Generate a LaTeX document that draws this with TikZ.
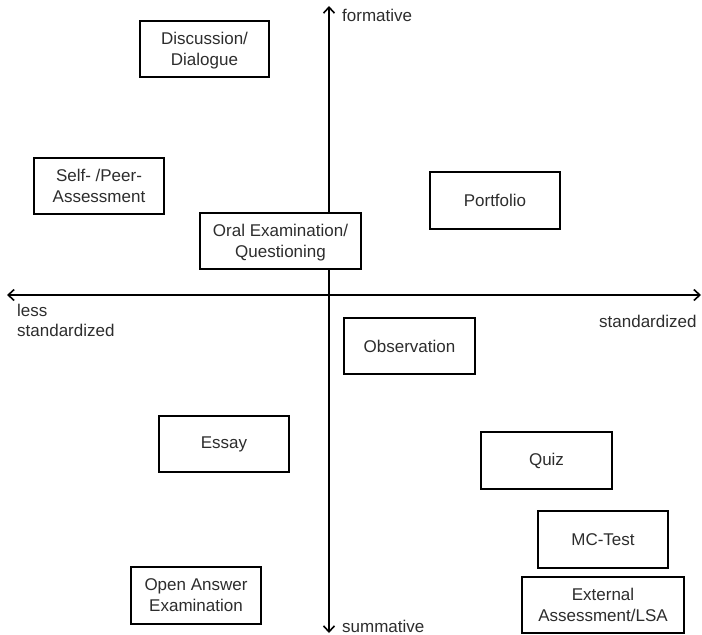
\documentclass[tikz,border=0pt]{standalone}
\usepackage{fontspec}
\setmainfont{Liberation Sans}
\usetikzlibrary{arrows.meta}
\definecolor{txt}{RGB}{45,45,45}
\newcommand\lnst{\rule[-5pt]{0pt}{21pt}}
\tikzset{
  item/.style={draw=black, line width=1.6pt, fill=white, inner sep=0pt, align=center,
    text=txt, font=\fontsize{17}{21}\selectfont},
  axis/.style={line width=1.6pt, draw=black, {Straight Barb[length=6pt,width=11pt,line width=1.6pt]}-{Straight Barb[length=6pt,width=11pt,line width=1.6pt]}},
  lbl/.style={text=txt, inner sep=0pt, font=\fontsize{17}{20}\selectfont}
}
\begin{document}
\begin{tikzpicture}[x=1pt,y=-1pt]
\useasboundingbox (0,0) rectangle (702,635);
\coordinate (top) at (329,6);
\coordinate (bot) at (329,633);
\coordinate (lft) at (7,295);
\coordinate (rgt) at (701,295);
\draw[axis] (top) -- (bot);
\draw[axis] (lft) -- (rgt);

\node[item, minimum width=129pt, minimum height=56pt] (disc) at (204.5,49) {\lnst Discussion/\\\lnst Dialogue};
\node[item, minimum width=130pt, minimum height=56pt] (self) at (99,186) {\lnst Self- /Peer-\\\lnst Assessment};
\node[item, minimum width=161pt, minimum height=56pt] (oral) at (280.5,241) {\lnst Oral Examination/\\\lnst Questioning};
\node[item, minimum width=130pt, minimum height=57pt] (port) at (495,200.5) {Portfolio};
\node[item, minimum width=131pt, minimum height=56pt] (obs) at (409.5,346) {Observation};
\node[item, minimum width=130pt, minimum height=56pt] (essay) at (224,444) {Essay};
\node[item, minimum width=130pt, minimum height=57pt] (open) at (196,595.5) {\lnst Open Answer\\\lnst Examination};
\node[item, minimum width=131pt, minimum height=57pt] (quiz) at (546.5,460.5) {Quiz};
\node[item, minimum width=130pt, minimum height=57pt] (mc) at (603,539.5) {MC-Test};
\node[item, minimum width=162pt, minimum height=56pt] (ext) at (603,605) {\lnst External\\\lnst Assessment/LSA};

\node[lbl, anchor=west] (form) at (342,15) {formative};
\node[lbl, anchor=west] (summ) at (342,626) {summative};
\node[lbl, anchor=north west, align=left] (less) at (17,304) {less\\standardized};
\node[lbl, anchor=west] (std) at (599,321) {standardized};
\end{tikzpicture}
\end{document}
